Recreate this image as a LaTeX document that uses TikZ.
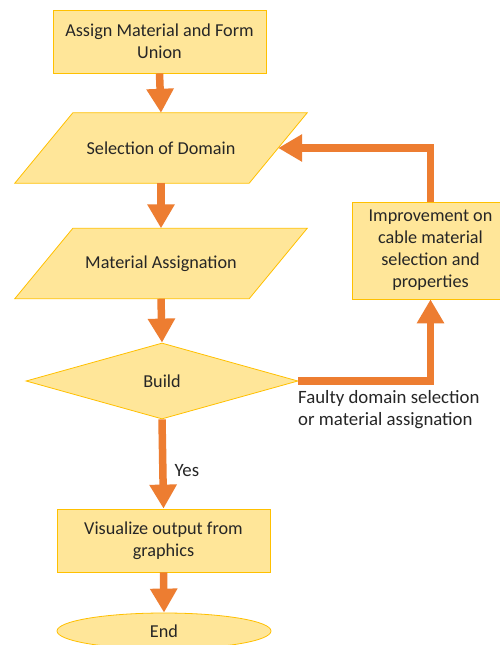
\documentclass[tikz,border=0pt]{standalone}
\usepackage{fontspec}
\setmainfont{Carlito}
\usetikzlibrary{arrows.meta,shapes.geometric}
\definecolor{boxfill}{HTML}{FFE699}
\definecolor{boxline}{HTML}{FFC000}
\definecolor{arr}{HTML}{ED7D31}
\definecolor{txt}{HTML}{262626}
\begin{document}
\begin{tikzpicture}[x=1pt,y=-1pt,
  every node/.style={text=txt,font=\fontsize{18.2}{22}\selectfont},
  procbox/.style={draw=boxline,fill=boxfill,line width=0.8pt,minimum width=213pt,minimum height=63pt,inner sep=0pt,align=center},
  parabody/.style={minimum width=234pt,minimum height=70pt,inner sep=0pt,align=center},
  paraline/.style={draw=boxline,fill=boxfill,line width=0.8pt},
  decision/.style={diamond,draw=boxline,fill=boxfill,line width=0.8pt,minimum width=272pt,minimum height=76pt,inner sep=0pt},
  terminal/.style={ellipse,draw=boxline,fill=boxfill,line width=0.8pt,minimum width=214pt,minimum height=36pt,inner sep=0pt},
  flow/.style={draw=arr,line width=7.5pt,-{Triangle[width=26pt,length=24pt]}},
  notelbl/.style={font=\fontsize{18.8}{22}\selectfont,inner sep=0pt}
]
\useasboundingbox (0,0) rectangle (500,645);
\fill[white] (0,0) rectangle (500,645);

\node[procbox] (assign) at (159.5,41.5) {Assign Material and Form\\Union};

\node[parabody] (sel) at (161,148) {};
\path[paraline] ([xshift=-29pt]sel.south west) -- ([xshift=-29pt]sel.south east) -- ([xshift=29pt]sel.north east) -- ([xshift=29pt]sel.north west) -- cycle;
\node[parabody] at (sel.center) {Selection of Domain};

\node[parabody] (mat) at (161,263.5) {};
\path[paraline] ([xshift=-29pt]mat.south west) -- ([xshift=-29pt]mat.south east) -- ([xshift=29pt]mat.north east) -- ([xshift=29pt]mat.north west) -- cycle;
\node[parabody] at (mat.center) {Material Assignation};

\node[decision] (build) at (162,381) {Build};

\node[procbox] (vis) at (163.5,540.5) {Visualize output from\\graphics};

\node[terminal] (end) at (164,631) {End};

\node[procbox,minimum width=157pt,minimum height=97pt] (imp) at (430.5,250.5) {Improvement on\\cable material\\selection and\\properties};

\draw[flow] (assign.south) -- (sel.north);
\draw[flow] (sel.south) -- (mat.north);
\draw[flow] (mat.south) -- (build.north);
\draw[flow] (build.south) -- node[notelbl,right=8pt,pos=0.57] (yes) {Yes} (vis.north);
\draw[flow] (vis.south) -- (end.north);
\draw[flow] (build.east) -| (imp.south);
\draw[flow] (imp.north) |- (sel.east);

\node[notelbl,anchor=north west,align=left] (faulty) at (298,390) {Faulty domain selection\\or material assignation};
\end{tikzpicture}
\end{document}
